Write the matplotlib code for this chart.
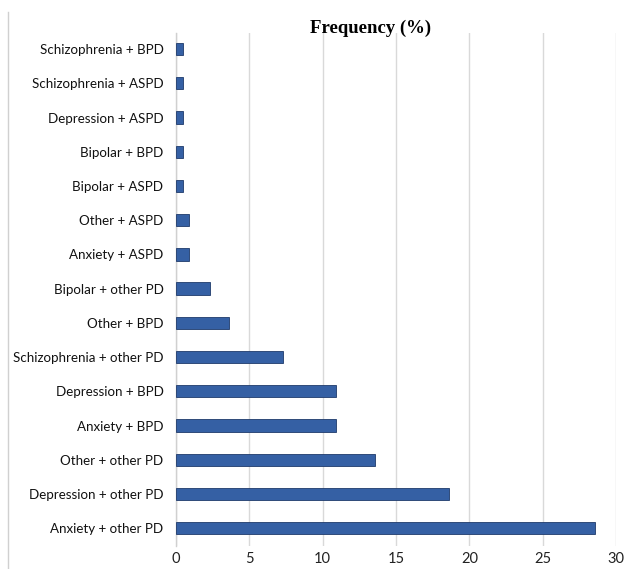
import matplotlib
matplotlib.use("Agg")
import matplotlib.pyplot as plt
from matplotlib.lines import Line2D

categories = [
    "Anxiety + other PD",
    "Depression + other PD",
    "Other + other PD",
    "Anxiety + BPD",
    "Depression + BPD",
    "Schizophrenia + other PD",
    "Other + BPD",
    "Bipolar + other PD",
    "Anxiety + ASPD",
    "Other + ASPD",
    "Bipolar + ASPD",
    "Bipolar + BPD",
    "Depression + ASPD",
    "Schizophrenia + ASPD",
    "Schizophrenia + BPD",
]
frequency = [28.6, 18.6, 13.6, 10.9, 10.9, 7.3, 3.6, 2.3, 0.9, 0.9, 0.45, 0.45, 0.45, 0.45, 0.45]
x_ticks = [0, 5, 10, 15, 20, 25, 30]

W, H = 624, 569
fig = plt.figure(figsize=(W / 100, H / 100), dpi=100)
ax = fig.add_axes([176 / W, 1 - 546 / H, 440 / W, 513 / H])

ypos = list(range(len(categories)))
ax.barh(ypos, frequency, height=0.36, color="#3560a4", edgecolor="#1f3a6b", linewidth=0.6, zorder=3)

ax.set_xlim(0, 30)
ax.set_ylim(-0.52, 14.47)
ax.set_xticks(x_ticks)
ax.set_xticklabels([str(t) for t in x_ticks], fontfamily="Lato", fontsize=10.5, color="#222222")
ax.set_yticks(ypos)
ax.set_yticklabels(categories, fontfamily="Lato", fontsize=9.6, color="#111111")
ax.tick_params(axis="y", length=0, pad=9)
ax.tick_params(axis="x", length=0, pad=4)

ax.grid(axis="x", color="#d9d9d9", linewidth=1.0, zorder=0)
for s in ["top", "right", "bottom"]:
    ax.spines[s].set_visible(False)
ax.spines["left"].set_color("#d0d0d0")
ax.spines["left"].set_linewidth(1.0)

fig.text(371 / W, 1 - 28 / H, "Frequency (%)", ha="center", va="center",
         fontfamily="Liberation Serif", fontweight="bold", fontsize=13.5)

fig.add_artist(Line2D([8 / W, 8 / W], [0, 1 - 12 / H], transform=fig.transFigure,
                      color="#d0d0d0", linewidth=1.0))

fig.savefig("out.png", dpi=100)
